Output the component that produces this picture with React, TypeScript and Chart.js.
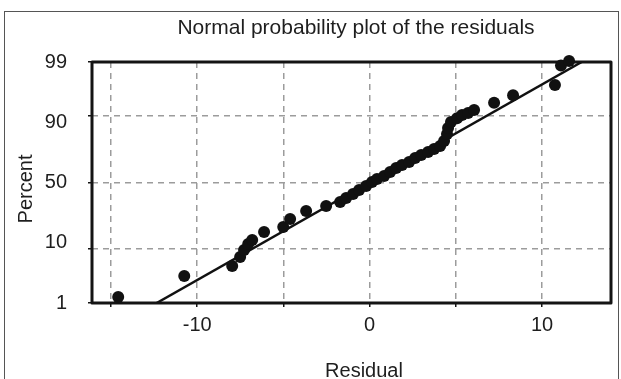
import { useEffect, useRef } from "react";
import { Chart, registerables } from "chart.js";

Chart.register(...registerables);

// Residuals of the fitted model and their cumulative plotting percentages
const residuals = [
  -14.58, -10.75, -7.97, -7.51, -7.28, -7.04, -6.81, -6.12, -5.01, -4.61,
  -3.68, -2.52, -1.71, -1.36, -0.96, -0.61, -0.2, 0.14, 0.43, 0.84,
  1.19, 1.54, 1.88, 2.29, 2.64, 2.99, 3.39, 3.74, 4.09, 4.32,
  4.49, 4.55, 4.72, 5.07, 5.36, 5.71, 6.06, 7.22, 8.32, 10.75,
  11.1, 11.57,
];
const percents = [
  1.36, 3.55, 5.35, 7.52, 9.63, 11.76, 13.35, 16.96, 19.52, 24.04,
  29.1, 32.5, 35.3, 38.2, 41.2, 44.2, 47.3, 50.4, 52.7, 55.0,
  58.0, 61.0, 63.2, 65.4, 68.2, 70.2, 72.2, 74.1, 75.9, 78.8,
  82.5, 85.4, 87.9, 89.3, 90.4, 91.0, 91.9, 93.8, 95.4, 97.0,
  98.8, 99.05,
];

// Reference normal line (end points)
const fitResiduals = [-12.35, 12.3];
const fitPercents = [1, 99];

// Axes
const percentTicks = [1, 10, 50, 90, 99];
const residualMin = -16.1;
const residualMax = 14.0;
const residualGridStep = 5;
const residualLabelStep = 10;

const FONT = "'Liberation Sans', Arial, Helvetica, sans-serif";
const INK = "#1e1e1e";
const GRID = "#9c9c9c";
const FRAME = "#141414";

// Inverse of the standard normal CDF (Acklam's rational approximation)
function probit(p: number): number {
  const a = [-39.69683028665376, 220.9460984245205, -275.9285104469687, 138.357751867269, -30.66479806614716, 2.506628277459239];
  const b = [-54.47609879822406, 161.5858368580409, -155.6989798598866, 66.80131188771972, -13.28068155288572];
  const c = [-0.007784894002430293, -0.3223964580411365, -2.400758277161838, -2.549732539343734, 4.374664141464968, 2.938163982698783];
  const d = [0.007784695709041462, 0.3224671290700398, 2.445134137142996, 3.754408661907416];
  const plow = 0.02425;
  const phigh = 1 - plow;
  if (p < plow) {
    const q = Math.sqrt(-2 * Math.log(p));
    return (((((c[0] * q + c[1]) * q + c[2]) * q + c[3]) * q + c[4]) * q + c[5]) /
      ((((d[0] * q + d[1]) * q + d[2]) * q + d[3]) * q + 1);
  }
  if (p <= phigh) {
    const q = p - 0.5;
    const r = q * q;
    return ((((((a[0] * r + a[1]) * r + a[2]) * r + a[3]) * r + a[4]) * r + a[5]) * q) /
      (((((b[0] * r + b[1]) * r + b[2]) * r + b[3]) * r + b[4]) * r + 1);
  }
  const q = Math.sqrt(-2 * Math.log(1 - p));
  return -(((((c[0] * q + c[1]) * q + c[2]) * q + c[3]) * q + c[4]) * q + c[5]) /
    ((((d[0] * q + d[1]) * q + d[2]) * q + d[3]) * q + 1);
}

// Box around the plotting area, drawn beneath the markers
const plotFrame = {
  id: "plotFrame",
  beforeDatasetsDraw(chart: any) {
    const { ctx, chartArea } = chart;
    const { left, top, right, bottom } = chartArea;
    ctx.save();
    ctx.strokeStyle = FRAME;
    ctx.lineWidth = 3;
    ctx.lineJoin = "round";
    ctx.strokeRect(left, top, right - left, bottom - top);
    ctx.restore();
  },
};

// Chart title and axis names
const captions = {
  id: "captions",
  afterDraw(chart: any) {
    const { ctx } = chart;
    ctx.save();
    ctx.fillStyle = INK;
    ctx.textAlign = "center";
    ctx.textBaseline = "alphabetic";
    ctx.font = `21px ${FONT}`;
    ctx.fillText("Normal probability plot of the residuals", 356, 34);
    ctx.font = `20px ${FONT}`;
    ctx.fillText("Residual", 364, 377);
    ctx.translate(32, 189);
    ctx.rotate(-Math.PI / 2);
    ctx.fillText("Percent", 0, 0);
    ctx.restore();
  },
};

export default function App() {
  const canvasRef = useRef<HTMLCanvasElement>(null);

  useEffect(() => {
    const canvas = canvasRef.current;
    if (!canvas) return;

    const points = residuals.map((r, i) => ({ x: r, y: probit(percents[i] / 100) }));
    const fitLine = fitResiduals.map((r, i) => ({ x: r, y: probit(fitPercents[i] / 100) }));

    const chart = new Chart(canvas, {
      type: "scatter",
      data: {
        datasets: [
          {
            type: "scatter",
            data: points,
            pointRadius: 6,
            pointHoverRadius: 6,
            backgroundColor: "#111",
            borderWidth: 0,
            order: 0,
            clip: false,
          } as any,
          {
            type: "line",
            data: fitLine,
            borderColor: "#111",
            borderWidth: 2.5,
            pointRadius: 0,
            fill: false,
            order: 1,
          } as any,
        ],
      },
      options: {
        animation: false,
        responsive: false,
        devicePixelRatio: 1,
        layout: { padding: { top: 62, right: 10, left: 0, bottom: 0 }, autoPadding: false },
        plugins: {
          legend: { display: false },
          tooltip: { enabled: false },
          title: { display: false },
        },
        scales: {
          x: {
            type: "linear",
            min: residualMin,
            max: residualMax,
            ticks: {
              stepSize: residualGridStep,
              includeBounds: false,
              autoSkip: false,
              maxRotation: 0,
              padding: 6,
              color: INK,
              font: { family: FONT, size: 20 },
              callback: (v: any) => (Number(v) % residualLabelStep === 0 ? String(v) : ""),
            },
            grid: { color: GRID, lineWidth: 1.5, tickLength: 4, tickColor: FRAME },
            border: { display: false, dash: [6, 5] },
            afterFit: (s: any) => {
              s.height = 76;
            },
          },
          y: {
            type: "linear",
            position: "left",
            weight: 0,
            min: probit(percentTicks[0] / 100),
            max: probit(percentTicks[percentTicks.length - 1] / 100),
            afterBuildTicks: (s: any) => {
              s.ticks = percentTicks.map((p) => ({ value: probit(p / 100) }));
            },
            ticks: { display: false },
            grid: { color: GRID, lineWidth: 1.5, tickLength: 4, tickColor: FRAME },
            border: { display: false, dash: [6, 5] },
            afterFit: (s: any) => {
              s.width = 5;
            },
          },
          yLabels: {
            type: "linear",
            position: "left",
            weight: 1,
            min: 0,
            max: percentTicks.length - 1,
            ticks: {
              stepSize: 1,
              autoSkip: false,
              padding: 12,
              color: INK,
              font: { family: FONT, size: 20 },
              callback: (v: any) => {
                const label = percentTicks[Number(v)];
                return label === undefined ? "" : String(label);
              },
            },
            grid: { display: false },
            border: { display: false },
            afterFit: (s: any) => {
              s.width = 87;
            },
          },
        },
      } as any,
      plugins: [plotFrame, captions],
    });

    return () => chart.destroy();
  }, []);

  return (
    <div
      style={{
        position: "absolute",
        left: 0,
        top: 0,
        width: 621,
        height: 379,
        overflow: "hidden",
        background: "#fff",
      }}
    >
      <div
        style={{
          position: "absolute",
          left: 4,
          top: 11,
          width: 615,
          height: 420,
          border: "1.5px solid #555",
          boxSizing: "border-box",
        }}
      />
      <canvas
        ref={canvasRef}
        width={621}
        height={379}
        style={{ position: "absolute", left: 0, top: 0, width: 621, height: 379 }}
      />
    </div>
  );
}
